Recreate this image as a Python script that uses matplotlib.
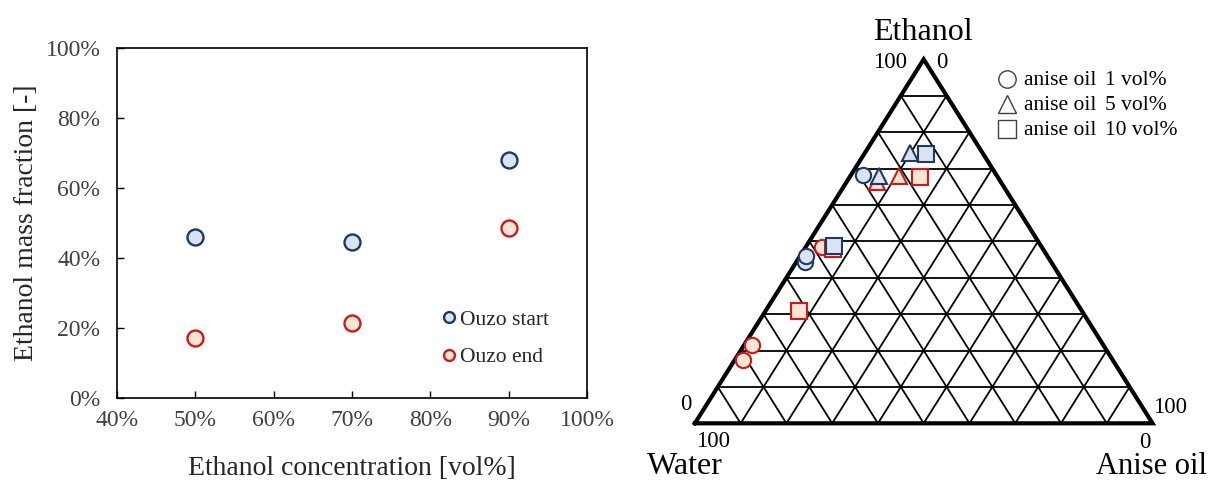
import matplotlib
matplotlib.use("Agg")
import matplotlib.pyplot as plt
import numpy as np

plt.rcParams['font.family'] = ['Liberation Serif', 'DejaVu Serif']

# ---- Left chart data ----
eth_conc = [0.5, 0.7, 0.9]
ouzo_start = [0.46, 0.446, 0.68]
ouzo_end = [0.172, 0.213, 0.486]
x_ticks = [0.4, 0.5, 0.6, 0.7, 0.8, 0.9, 1.0]
y_ticks = [0.0, 0.2, 0.4, 0.6, 0.8, 1.0]

# ---- Ternary data (fractions: ethanol, anise oil) ----
c1_start_eth = [0.682, 0.444, 0.460]
c1_start_oil = [0.026, 0.019, 0.013]
c1_end_eth = [0.485, 0.214, 0.174]
c1_end_oil = [0.036, 0.017, 0.018]
t5_start_eth = [0.742, 0.680]
t5_start_oil = [0.098, 0.063]
t5_end_eth = [0.664, 0.680]
t5_end_oil = [0.066, 0.105]
s10_start_eth = [0.740, 0.487]
s10_start_oil = [0.136, 0.061]
s10_end_eth = [0.676, 0.478, 0.309]
s10_end_oil = [0.154, 0.063, 0.074]
legend_labels = ["anise oil", "anise oil", "anise oil"]
legend_conc = ["1 vol%", "5 vol%", "10 vol%"]

BLUE_E, BLUE_F = '#203864', '#DAE3F3'
RED_E, RED_F = '#D01818', '#FBE5D6'
TXT = '#262626'

W, H = 1216, 482
fig = plt.figure(figsize=(W / 100, H / 100), dpi=100)

# ---------------- Left scatter ----------------
ax = fig.add_axes([117 / W, 1 - 398 / H, (587 - 117) / W, (398 - 48) / H])
ax.plot(eth_conc, ouzo_start, 'o', ms=11.5, mfc=BLUE_F, mec=BLUE_E, mew=1.7,
        ls='none', label='Ouzo start')
ax.plot(eth_conc, ouzo_end, 'o', ms=11.5, mfc=RED_F, mec=RED_E, mew=1.7,
        ls='none', label='Ouzo end')
ax.set_xlim(0.4, 1.0)
ax.set_ylim(0.0, 1.0)
ax.set_xticks(x_ticks)
ax.set_yticks(y_ticks)
ax.set_xticklabels([f"{int(round(v * 100))}%" for v in x_ticks])
ax.set_yticklabels([f"{int(round(v * 100))}%" for v in y_ticks])
ax.tick_params(direction='in', length=5, width=1, labelsize=17, colors='black',
               labelcolor='#404040')
ax.tick_params(axis='x', pad=9)
ax.tick_params(axis='y', pad=12)
for s in ax.spines.values():
    s.set_linewidth(1.2)
ax.set_xlabel('Ethanol concentration [vol%]', fontsize=20, color=TXT, va='top')
ax.xaxis.set_label_coords(0.499, -0.166)
ax.set_ylabel('Ethanol mass fraction [-]', fontsize=20, color=TXT)
ax.yaxis.set_label_coords(-0.167, 0.5)
leg = ax.legend(loc='upper left', bbox_to_anchor=(0.684, 0.252), frameon=False,
                fontsize=15.5, markerscale=0.68, handletextpad=0.0, labelspacing=0.8,
                handlelength=1.0, borderaxespad=0, borderpad=0)
for t in leg.get_texts():
    t.set_color(TXT)

# ---------------- Ternary ----------------
x0, x1 = 694.9, 1152.5
yb, yt = 423.3, 59.3
tax = fig.add_axes([x0 / W, 1 - yb / H, (x1 - x0) / W, (yb - yt) / H])
tax.set_xlim(0, 1)
tax.set_ylim(0, 1)
tax.axis('off')


def tern(eth, oil):
    eth = np.asarray(eth)
    oil = np.asarray(oil)
    return oil + eth / 2.0, eth


# grid lines every 10%
for k in range(1, 10):
    f = k / 10
    xa, ya = tern([f, f], [0, 1 - f])
    tax.plot(xa, ya, color='black', lw=1.3, clip_on=False, zorder=1)
    xa, ya = tern([0, 1 - f], [f, f])
    tax.plot(xa, ya, color='black', lw=1.3, clip_on=False, zorder=1)
    xa, ya = tern([0, 1 - f], [1 - f, 0])
    tax.plot(xa, ya, color='black', lw=1.3, clip_on=False, zorder=1)

ox, oy = tern([0, 0, 1, 0], [0, 1, 0, 0])
tax.plot(ox, oy, color='black', lw=3, clip_on=False, zorder=2,
         solid_joinstyle='miter')

ms_t = 11
mew_t = 1.5
for eth, oil, mk, fc, ec in [
    (c1_start_eth, c1_start_oil, 'o', BLUE_F, BLUE_E),
    (c1_end_eth, c1_end_oil, 'o', RED_F, RED_E),
    (t5_end_eth, t5_end_oil, '^', RED_F, RED_E),
    (t5_start_eth, t5_start_oil, '^', BLUE_F, BLUE_E),
    (s10_end_eth, s10_end_oil, 's', RED_F, RED_E),
    (s10_start_eth, s10_start_oil, 's', BLUE_F, BLUE_E),
]:
    px, py = tern(eth, oil)
    tax.plot(px, py, mk, ms=ms_t, mfc=fc, mec=ec,
             mew=mew_t, ls='none', clip_on=False, zorder=3)


def pa(px, py):
    return (px - x0) / (x1 - x0), (yb - py) / (yb - yt)


kw = dict(transform=tax.transAxes, color='black', clip_on=False, va='baseline')
tax.text(*pa(922.8, 40), 'Ethanol', fontsize=23, ha='center', **kw)
tax.text(*pa(684.5, 474), 'Water', fontsize=23, ha='center', **kw)
tax.text(*pa(1151.5, 474), 'Anise oil', fontsize=22, ha='center', **kw)
tax.text(*pa(907, 68), '100', fontsize=16.5, ha='right', **kw)
tax.text(*pa(942, 68), '0', fontsize=16.5, ha='center', **kw)
tax.text(*pa(686, 410), '0', fontsize=16.5, ha='center', **kw)
tax.text(*pa(713.5, 447), '100', fontsize=16.5, ha='center', **kw)
tax.text(*pa(1170, 413), '100', fontsize=16.5, ha='center', **kw)
tax.text(*pa(1144.5, 448), '0', fontsize=16.5, ha='center', **kw)

# legend (open markers)
leg_y = [79, 104, 129]
for lab, conc, mk, yy in zip(legend_labels, legend_conc, ['o', '^', 's'], leg_y):
    lx, ly = pa(1007, yy)
    tax.plot([lx], [ly], mk, ms=12.5, mfc='white',
             mec='#404040', mew=1.0, transform=tax.transAxes, clip_on=False)
    tax.text(*pa(1024, yy + 6), lab, fontsize=15.5, ha='left', **kw)
    tax.text(*pa(1105, yy + 6), conc, fontsize=15.5, ha='left', **kw)

fig.savefig('out.png', dpi=100)
